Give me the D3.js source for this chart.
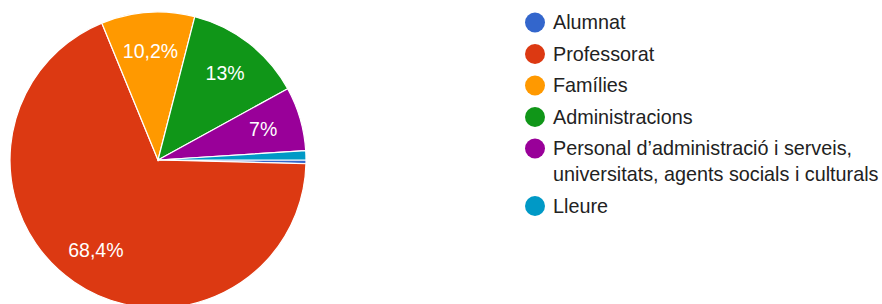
<!DOCTYPE html>
<html>
<head>
<meta charset="utf-8">
<script src="https://cdn.jsdelivr.net/npm/d3@7"></script>
<style>
  html, body { margin: 0; padding: 0; background: #fff; }
  svg { display: block; }
</style>
</head>
<body>
<svg id="chart" width="882" height="304"></svg>
<script>
const categories = ["Alumnat", "Professorat", "Famílies", "Administracions",
  "Personal d’administració i serveis, universitats, agents socials i culturals", "Lleure"];
const values = [0.4, 68.4, 10.2, 13, 7, 1.0];
const colors = ["#3366cc", "#dc3912", "#ff9900", "#109618", "#990099", "#0099c6"];

const W = 882, H = 304;
const cx = 158, cy = 160, R = 148;
const font = "Arial, 'Liberation Sans', Helvetica, sans-serif";

const svg = d3.select("#chart");
const data = categories.map((c, i) => ({ name: c, value: values[i], color: colors[i] }));
const total = d3.sum(values);

const pie = d3.pie().value(d => d.value).sort(null)
  .startAngle(Math.PI / 2).endAngle(Math.PI / 2 + 2 * Math.PI);
const arcs = pie(data);
const arc = d3.arc().innerRadius(0).outerRadius(R);
const labelArc = d3.arc().innerRadius(R * 0.74).outerRadius(R * 0.74);

const g = svg.append("g").attr("transform", `translate(${cx},${cy})`);
g.selectAll("path").data(arcs).join("path")
  .attr("d", arc)
  .attr("fill", d => d.data.color)
  .attr("stroke", "#fff")
  .attr("stroke-width", 1.2);

const fmt = v => {
  const p = Math.round(v / total * 1000) / 10;
  return String(p).replace(".", ",") + "%";
};
g.selectAll("text.lbl").data(arcs.filter(d => d.data.value / total > 0.05)).join("text")
  .attr("class", "lbl")
  .attr("transform", d => `translate(${labelArc.centroid(d)})`)
  .attr("text-anchor", "middle")
  .attr("dy", "0.36em")
  .attr("fill", "#fff")
  .style("font-family", font)
  .style("font-size", "19.5px")
  .text(d => fmt(d.data.value));

// Legend
const lx = 535, ly0 = 22.5, rowH = 31.5, lineH = 26, maxW = 335, fs = 19.8;
const measure = svg.append("text").style("font-family", font).style("font-size", fs + "px").attr("visibility", "hidden");
function wrap(str) {
  const words = str.split(" ");
  const lines = [];
  let cur = "";
  for (const w of words) {
    const test = cur ? cur + " " + w : w;
    measure.text(test);
    if (measure.node().getComputedTextLength() > maxW && cur) {
      lines.push(cur);
      cur = w;
    } else cur = test;
  }
  if (cur) lines.push(cur);
  return lines;
}
let y = ly0;
const leg = svg.append("g");
data.forEach(d => {
  const lines = wrap(d.name);
  leg.append("circle").attr("cx", lx).attr("cy", y).attr("r", 10).attr("fill", d.color);
  const t = leg.append("text")
    .attr("x", lx + 18).attr("y", y + 6.5)
    .attr("fill", "#222")
    .style("font-family", font)
    .style("font-size", fs + "px");
  lines.forEach((ln, i) => {
    t.append("tspan").attr("x", lx + 18).attr("dy", i === 0 ? 0 : lineH).text(ln);
  });
  y += rowH + (lines.length - 1) * lineH;
});
measure.remove();
</script>
</body>
</html>
